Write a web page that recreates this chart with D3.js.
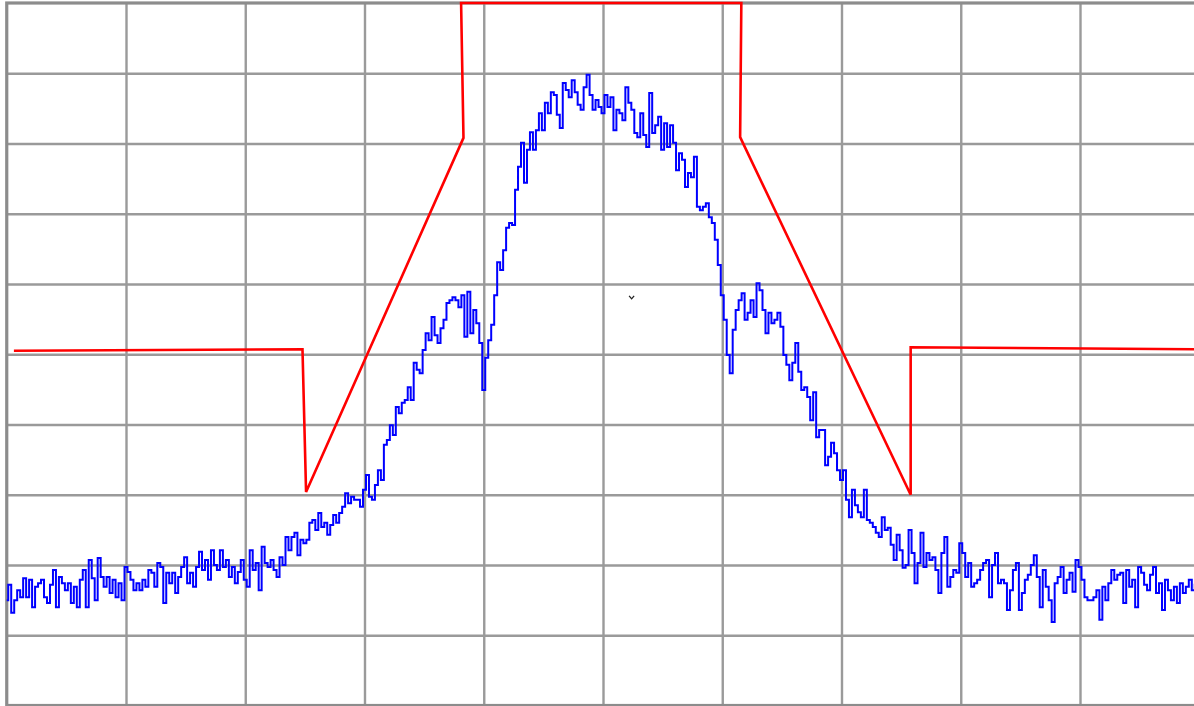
<!DOCTYPE html>
<html>
<head>
<meta charset="utf-8">
<script src="https://cdn.jsdelivr.net/npm/d3@7"></script>
<style>
body { margin: 0; background: #fff; }
svg { display: block; }
</style>
</head>
<body>
<script>
// sweep settings: frequency offset (MHz) and level (dBm), 10 dB/div
var freqStart = -5, freqStop = 5;
var refLevel = 0, bottomLevel = -100;
var gridFreqs = [-4, -3, -2, -1, 0, 1, 2, 3, 4];
var gridLevels = [-10, -20, -30, -40, -50, -60, -70, -80, -90];

// measured trace, 401 sweep points evenly spread across the span
var trace = [
-85.0,-82.8,-86.8,-85.0,-83.6,-84.6,-81.9,-84.6,-82.1,-86.0,
-83.1,-82.6,-82.1,-84.6,-85.4,-82.8,-80.7,-86.0,-81.7,-82.6,
-83.6,-82.6,-85.4,-83.1,-86.0,-82.1,-80.7,-86.0,-79.3,-81.9,
-85.0,-79.0,-81.7,-83.1,-81.7,-84.0,-82.1,-84.6,-82.6,-85.0,
-80.3,-81.0,-82.1,-83.6,-82.6,-83.6,-82.1,-83.1,-80.7,-81.1,
-83.1,-79.7,-80.3,-85.4,-81.1,-82.6,-81.1,-84.0,-81.7,-80.3,
-78.9,-82.6,-81.1,-83.1,-80.3,-78.1,-80.7,-79.3,-82.1,-77.9,
-80.0,-80.7,-77.9,-80.3,-79.3,-81.7,-80.3,-82.6,-81.0,-79.3,
-82.1,-83.1,-77.9,-80.7,-79.7,-83.6,-77.4,-79.7,-80.3,-79.3,
-80.7,-81.7,-78.9,-80.0,-76.0,-77.9,-76.0,-75.4,-78.6,-76.4,
-76.9,-76.4,-74.0,-73.6,-75.0,-72.6,-74.6,-74.0,-75.7,-74.3,
-72.9,-74.0,-72.6,-71.7,-69.8,-71.2,-70.3,-70.7,-70.7,-71.7,
-69.3,-67.2,-70.3,-70.7,-68.6,-66.5,-67.9,-62.9,-62.2,-60.1,
-61.5,-57.5,-58.4,-56.9,-56.5,-54.7,-56.5,-51.2,-52.2,-52.7,
-49.4,-47.0,-48.0,-44.7,-47.3,-48.4,-46.3,-45.1,-42.7,-42.3,
-41.9,-42.3,-43.3,-41.6,-47.5,-41.1,-47.0,-43.7,-45.6,-48.4,
-55.1,-50.5,-48.0,-45.8,-41.6,-36.9,-38.0,-35.2,-32.0,-31.3,
-31.6,-26.6,-23.3,-19.9,-25.6,-20.9,-18.4,-20.9,-18.1,-15.7,
-18.1,-14.2,-15.7,-12.7,-13.1,-15.9,-17.8,-11.4,-12.4,-13.4,
-11.0,-12.7,-14.5,-15.2,-12.0,-10.2,-13.1,-15.2,-13.8,-14.8,
-15.7,-13.1,-14.8,-13.4,-18.1,-15.2,-15.7,-16.7,-12.0,-14.2,
-15.2,-18.5,-19.1,-15.7,-18.8,-20.5,-12.8,-18.5,-17.4,-16.2,
-20.9,-17.1,-20.5,-17.4,-19.9,-23.8,-21.4,-22.3,-26.2,-24.2,
-24.8,-21.9,-29.0,-29.5,-29.0,-28.5,-30.5,-31.3,-33.7,-37.3,
-41.6,-45.1,-50.1,-52.7,-46.5,-43.7,-42.3,-41.3,-45.1,-44.1,
-42.3,-44.7,-39.9,-40.9,-43.7,-47.0,-44.1,-45.6,-45.1,-44.1,
-46.1,-50.1,-51.5,-53.7,-51.2,-48.4,-52.5,-55.1,-54.7,-56.1,
-59.4,-55.4,-61.8,-60.8,-60.8,-65.8,-64.6,-62.6,-64.1,-66.5,
-67.9,-66.5,-70.7,-73.2,-69.3,-71.5,-72.5,-73.2,-69.3,-73.6,
-74.0,-74.6,-75.4,-76.0,-73.2,-75.0,-74.7,-77.1,-79.3,-75.7,
-77.9,-80.4,-80.0,-75.0,-78.3,-82.6,-79.7,-75.4,-80.3,-78.3,
-79.3,-78.9,-80.7,-84.0,-78.3,-76.0,-83.1,-81.7,-80.7,-81.1,
-76.9,-78.3,-81.7,-79.7,-83.1,-82.6,-82.1,-80.7,-79.7,-79.3,
-84.6,-80.0,-78.3,-82.6,-82.1,-82.6,-86.4,-83.6,-80.7,-79.7,
-86.4,-84.0,-82.1,-81.4,-80.0,-78.6,-81.7,-86.0,-80.7,-83.1,
-85.0,-88.1,-82.6,-81.7,-80.3,-84.0,-82.1,-81.1,-83.8,-79.3,
-80.3,-82.1,-84.6,-85.0,-85.0,-84.6,-83.6,-87.8,-83.1,-85.0,
-82.6,-80.7,-82.1,-81.4,-81.1,-85.4,-80.7,-83.1,-82.1,-86.0,
-80.3,-81.1,-82.8,-83.6,-81.4,-80.3,-84.0,-82.6,-86.4,-82.1,
-83.6,-85.0,-83.1,-85.4,-82.6,-84.0,-83.1,-82.1,-83.6,-82.8,-83.6
];

// spectrum emission mask (limit line) corners
var maskFreq  = [-4.94, -2.52, -2.49, -1.17, -1.19, 1.16, 1.15, 2.58, 2.58, 5.0];
var maskLevel = [-49.5, -49.3, -69.6, -19.2, 0.0, 0.0, -19.1, -70.0, -49.0, -49.3];

// marker
var markerFreq = [0.24];
var markerLevel = [-41.9];

var width = 1194, height = 706;

var x = d3.scaleLinear()
.domain([freqStart, freqStop])
.range([6.75, 1199.25]);

var y = d3.scaleLinear()
.domain([refLevel, bottomLevel])
.range([3, 705.5]);

var svg = d3.select("body").append("svg")
.attr("width", width)
.attr("height", height);

svg.append("rect")
.attr("width", width)
.attr("height", height)
.attr("fill", "#fff");

// vertical grid lines
svg.append("g")
.attr("class", "grid-x")
.attr("transform", "translate(0," + y(refLevel) + ")")
.call(d3.axisBottom(x).tickValues(gridFreqs).tickSize(y(bottomLevel) - y(refLevel)).tickFormat(""))
.call(function(g) { g.select(".domain").remove(); });

// horizontal grid lines
svg.append("g")
.attr("class", "grid-y")
.attr("transform", "translate(" + x(freqStart) + ",0)")
.call(d3.axisRight(y).tickValues(gridLevels).tickSize(x(freqStop) - x(freqStart)).tickFormat(""))
.call(function(g) { g.select(".domain").remove(); });

svg.selectAll(".grid-x line, .grid-y line")
.attr("stroke", "#9a9a9a")
.attr("stroke-width", 2.4);

// screen border
svg.append("rect")
.attr("x", x(freqStart))
.attr("y", y(refLevel))
.attr("width", x(freqStop) - x(freqStart))
.attr("height", y(bottomLevel) - y(refLevel))
.attr("fill", "none")
.attr("stroke", "#8c8c8c")
.attr("stroke-width", 3.2);

// trace
var step = (freqStop - freqStart) / (trace.length - 1);
var line = d3.line()
.x(function(d, i) { return x(freqStart + i * step); })
.y(function(d) { return y(d); })
.curve(d3.curveStep);

svg.append("path")
.datum(trace)
.attr("fill", "none")
.attr("stroke", "#0000ff")
.attr("stroke-width", 2)
.attr("d", line);

// limit line
var maskLine = d3.line()
.x(function(d, i) { return x(maskFreq[i]); })
.y(function(d) { return y(d); });

svg.append("path")
.datum(maskLevel)
.attr("fill", "none")
.attr("stroke", "#ff0000")
.attr("stroke-width", 2.6)
.attr("stroke-linejoin", "miter")
.attr("d", maskLine);

// marker glyph
svg.selectAll("path.marker")
.data(markerFreq)
.enter().append("path")
.attr("class", "marker")
.attr("transform", function(d, i) { return "translate(" + x(d) + "," + y(markerLevel[i]) + ")"; })
.attr("d", "M-2.5,-1.5 L0,1.5 L2.5,-1.5")
.attr("fill", "none")
.attr("stroke", "#222")
.attr("stroke-width", 1.3);
</script>
</body>
</html>
